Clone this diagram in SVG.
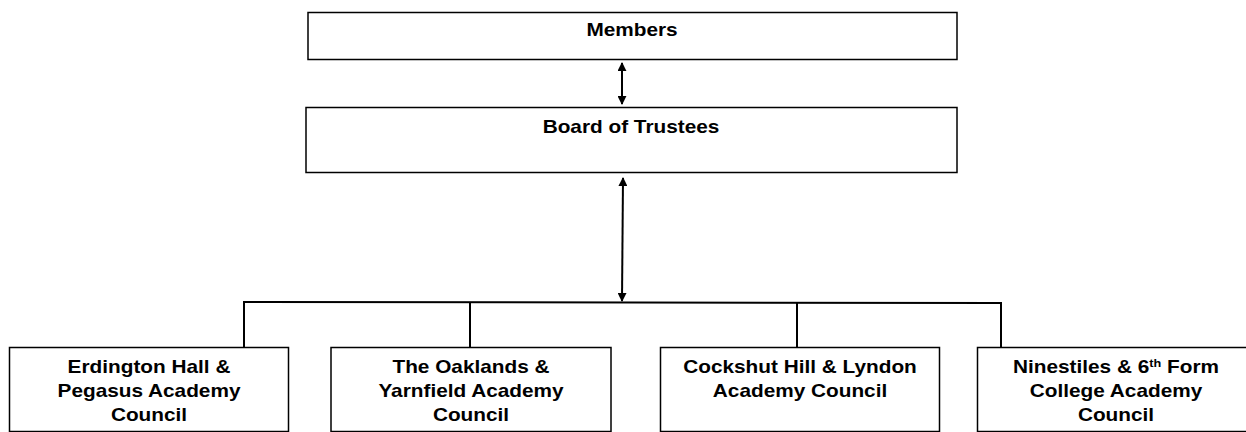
<svg xmlns="http://www.w3.org/2000/svg" width="1246" height="432" viewBox="0 0 1246 432">
<style>
.box{fill:#fff;stroke:#000;stroke-width:1.5}
.t{font-family:"Liberation Sans",Arial,sans-serif;font-weight:bold;font-size:18px;fill:#000;text-anchor:middle}
.ln{stroke:#000;stroke-width:2;fill:none}
</style>
<defs>
<marker id="ah" viewBox="0 0 10 10" refX="9" refY="5" markerWidth="4.5" markerHeight="4.5" orient="auto-start-reverse" markerUnits="strokeWidth">
<path d="M0,0 L10,5 L0,10 z" fill="#000"/>
</marker>
</defs>
<rect width="1246" height="432" fill="#fff"/>
<g id="connectors">
<line class="ln" x1="622" y1="63" x2="622" y2="104" marker-start="url(#ah)" marker-end="url(#ah)"/>
<line class="ln" x1="623" y1="178" x2="622" y2="301" marker-start="url(#ah)" marker-end="url(#ah)"/>
<polyline class="ln" points="244,348 244,302 1001,303 1001,348"/>
<line class="ln" x1="470" y1="302" x2="470" y2="348"/>
<line class="ln" x1="797" y1="303" x2="797" y2="348"/>
</g>
<g id="members">
<rect class="box" x="308" y="12.5" width="649" height="47"/>
<text class="t" transform="translate(632 36) scale(1.155 1)">Members</text>
</g>
<g id="board">
<rect class="box" x="306" y="107.5" width="651" height="65"/>
<text class="t" transform="translate(631 133) scale(1.155 1)">Board of Trustees</text>
</g>
<g id="erdington">
<rect class="box" x="9.5" y="347.5" width="279" height="84"/>
<text class="t" transform="translate(149 373) scale(1.155 1)">Erdington Hall &amp;</text>
<text class="t" transform="translate(149 397) scale(1.155 1)">Pegasus Academy</text>
<text class="t" transform="translate(149 421) scale(1.155 1)">Council</text>
</g>
<g id="oaklands">
<rect class="box" x="331" y="347.5" width="280" height="84"/>
<text class="t" transform="translate(471 373) scale(1.155 1)">The Oaklands &amp;</text>
<text class="t" transform="translate(471 397) scale(1.155 1)">Yarnfield Academy</text>
<text class="t" transform="translate(471 421) scale(1.155 1)">Council</text>
</g>
<g id="cockshut">
<rect class="box" x="660.5" y="347.5" width="279" height="84"/>
<text class="t" transform="translate(800 373) scale(1.155 1)">Cockshut Hill &amp; Lyndon</text>
<text class="t" transform="translate(800 397) scale(1.155 1)">Academy Council</text>
</g>
<g id="ninestiles">
<rect class="box" x="977.5" y="347.5" width="280" height="84"/>
<text class="t" transform="translate(1116 373) scale(1.155 1)">Ninestiles &amp; 6<tspan font-size="11" dy="-6">th</tspan><tspan dy="6"> Form</tspan></text>
<text class="t" transform="translate(1116 397) scale(1.155 1)">College Academy</text>
<text class="t" transform="translate(1116 421) scale(1.155 1)">Council</text>
</g>
</svg>
